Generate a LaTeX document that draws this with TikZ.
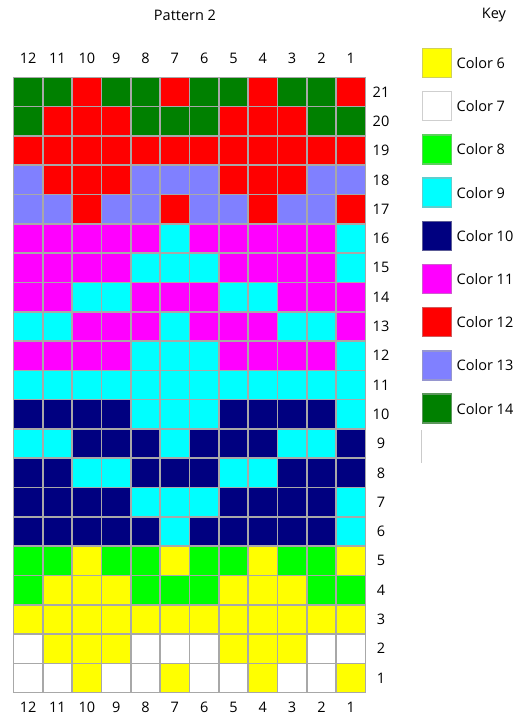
\documentclass[tikz,border=0pt]{standalone}
\usepackage{fontspec}
\setmainfont{Open Sans}
\usetikzlibrary{positioning}
\definecolor{col6}{HTML}{FFFF00}
\definecolor{col7}{HTML}{FFFFFF}
\definecolor{col8}{HTML}{00FF00}
\definecolor{col9}{HTML}{00FFFF}
\definecolor{col10}{HTML}{000080}
\definecolor{col11}{HTML}{FF00FF}
\definecolor{col12}{HTML}{FF0000}
\definecolor{col13}{HTML}{8080FF}
\definecolor{col14}{HTML}{008000}
\definecolor{gridgray}{HTML}{A8A8A8}
\tikzset{
  cell/.style={draw=gridgray, line width=1.6pt, minimum size=29.3pt, inner sep=0pt, outer sep=0pt},
  swatch/.style={line width=1.4pt, minimum size=29pt, inner sep=0pt, outer sep=0pt},
  lbl/.style={font=\fontsize{14.5}{17}\selectfont, inner sep=0pt}
}
\begin{document}
\begin{tikzpicture}[x=1pt, y=-1pt]
\useasboundingbox (0,0) rectangle (526,721);
% titles
\node[lbl] (title) at (185,15) {Pattern 2};
\node[lbl] (key) at (494,15) {Key};
% chart, top row first, columns 12..1
\foreach \r/\cl in {
  21/{14,14,12,14,14,12,14,14,12,14,14,12},
  20/{14,12,12,12,14,14,14,12,12,12,14,14},
  19/{12,12,12,12,12,12,12,12,12,12,12,12},
  18/{13,12,12,12,13,13,13,12,12,12,13,13},
  17/{13,13,12,13,13,12,13,13,12,13,13,12},
  16/{11,11,11,11,11,9,11,11,11,11,11,9},
  15/{11,11,11,11,9,9,9,11,11,11,11,9},
  14/{11,11,9,9,11,11,11,9,9,11,11,11},
  13/{9,9,11,11,11,9,11,11,11,9,9,11},
  12/{11,11,11,11,9,9,9,11,11,11,11,9},
  11/{9,9,9,9,9,9,9,9,9,9,9,9},
  10/{10,10,10,10,9,9,9,10,10,10,10,9},
  9/{9,9,10,10,10,9,10,10,10,9,9,10},
  8/{10,10,9,9,10,10,10,9,9,10,10,10},
  7/{10,10,10,10,9,9,9,10,10,10,10,9},
  6/{10,10,10,10,10,9,10,10,10,10,10,9},
  5/{8,8,6,8,8,6,8,8,6,8,8,6},
  4/{8,6,6,6,8,8,8,6,6,6,8,8},
  3/{6,6,6,6,6,6,6,6,6,6,6,6},
  2/{7,6,6,6,7,7,7,6,6,6,7,7},
  1/{7,7,6,7,7,6,7,7,6,7,7,6}}{
  \foreach \c [count=\i] in \cl {
    \node[cell, fill=col\c] (c\r-\i) at ({13.5+29.33*(\i-0.5)},{77.3+29.3*(21.5-\r)}) {};
  }
  \node[lbl] (row\r) at ({381},{77.3+29.3*(21.5-\r)}) {\r};
}
% column numbers
\foreach \i in {1,...,12}{
  \pgfmathtruncatemacro{\n}{13-\i}
  \node[lbl] (top\i) at ({13.5+29.33*(\i-0.5)},58) {\n};
  \node[lbl] (bot\i) at ({13.5+29.33*(\i-0.5)},707) {\n};
}
% key
\foreach \c [count=\k from 0] in {6,7,8,9,10,11,12,13,14}{
  \node[swatch, fill=col\c, draw=col\c!45!gridgray] (sw\c) at (436.7,{63+43.2*\k}) {};
  \node[lbl, anchor=west] (name\c) at (456.5,{63+43.2*\k}) {Color \c};
}
\coordinate (ktop) at (421.7,430);
\coordinate (kbot) at (421.7,463);
\draw[gridgray!60, line width=0.8pt] (ktop) -- (kbot);
\end{tikzpicture}
\end{document}
